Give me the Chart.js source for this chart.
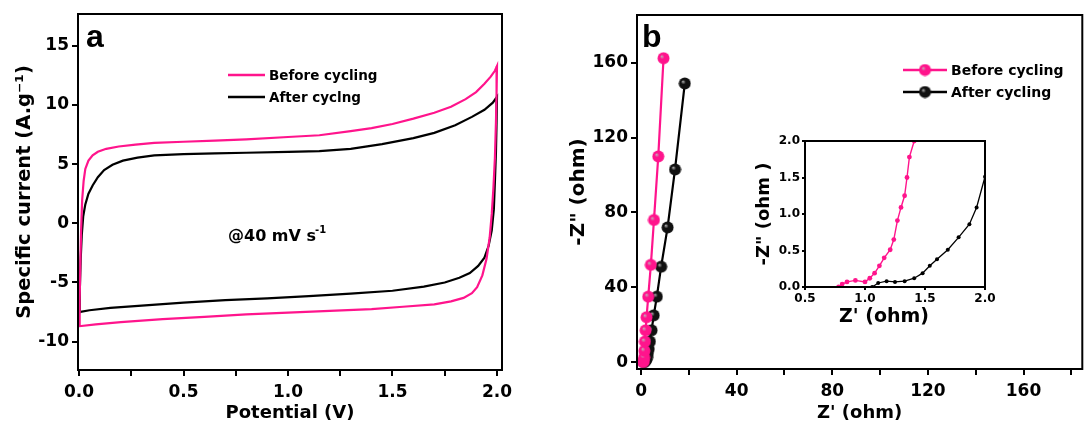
<!DOCTYPE html>
<html>
<head>
<meta charset="utf-8">
<script src="https://cdn.jsdelivr.net/npm/chart.js@4.4.1/dist/chart.umd.min.js"></script>
<style>
  html, body { margin: 0; padding: 0; background: #fff; }
  #wrap { position: relative; width: 1091px; height: 432px; overflow: hidden; }
  canvas { position: absolute; }
</style>
</head>
<body>
<div id="wrap">
  <canvas id="cvChart" style="left:0px;top:0px" width="560" height="432"></canvas>
  <canvas id="eisChart" style="left:560px;top:0px" width="531" height="432"></canvas>
  <canvas id="insetChart" style="left:740px;top:120px" width="260" height="220"></canvas>
</div>
<script>
// ---- data ----
// panel a: cyclic voltammetry loops (forward sweep, then reverse sweep)
const cvBeforeV = [0.000, 0.003, 0.006, 0.010, 0.015, 0.022, 0.030, 0.045, 0.065, 0.09, 0.13, 0.19, 0.27, 0.36, 0.50, 0.65, 0.80,
  1.00, 1.15, 1.30, 1.40, 1.50, 1.60, 1.70, 1.78, 1.85, 1.90, 1.94, 1.97, 1.99, 2.00,
  1.998, 1.995, 1.990, 1.983, 1.975, 1.965, 1.950, 1.930, 1.905, 1.88, 1.84, 1.78, 1.70, 1.55, 1.40, 1.20, 1.00, 0.80, 0.60, 0.40, 0.20, 0.08, 0.00];
const cvBeforeI = [-8.7, -6.5, -3.5, -0.5, 2.0, 3.6, 4.6, 5.3, 5.75, 6.05, 6.3, 6.5, 6.65, 6.8, 6.9, 7.0, 7.1,
  7.3, 7.45, 7.8, 8.05, 8.4, 8.85, 9.35, 9.85, 10.5, 11.1, 11.8, 12.4, 12.9, 13.3,
  11.0, 8.5, 5.5, 3.0, 0.8, -1.2, -3.0, -4.4, -5.4, -5.9, -6.3, -6.6, -6.85, -7.05, -7.25, -7.4, -7.55, -7.7, -7.9, -8.1, -8.35, -8.55, -8.7];
const cvAfterV = [0.000, 0.004, 0.008, 0.013, 0.020, 0.030, 0.045, 0.065, 0.09, 0.12, 0.16, 0.21, 0.28, 0.36, 0.50, 0.65, 0.80,
  1.00, 1.15, 1.30, 1.45, 1.60, 1.70, 1.80, 1.88, 1.94, 1.98, 2.00,
  1.998, 1.995, 1.990, 1.985, 1.975, 1.96, 1.94, 1.91, 1.87, 1.82, 1.75, 1.65, 1.50, 1.30, 1.10, 0.90, 0.70, 0.50, 0.30, 0.15, 0.05, 0.00];
const cvAfterI = [-7.5, -5.5, -3.0, -1.0, 0.6, 1.6, 2.5, 3.2, 3.9, 4.5, 4.95, 5.3, 5.55, 5.75, 5.85, 5.92, 5.97,
  6.05, 6.1, 6.3, 6.7, 7.2, 7.65, 8.3, 9.0, 9.6, 10.2, 10.7,
  8.5, 6.0, 3.5, 1.2, -0.6, -1.9, -2.9, -3.6, -4.2, -4.6, -5.0, -5.35, -5.7, -5.95, -6.15, -6.35, -6.5, -6.7, -6.95, -7.15, -7.35, -7.5];

// panel b: Nyquist plots
const eisBeforeRe = [0.8, 1.2, 1.3, 1.4, 1.6, 1.9, 2.3, 3.0, 4.1, 5.4, 7.2, 9.4];
const eisBeforeIm = [0.0, 0.6, 2.5, 6, 11, 17, 24, 35, 52, 76, 110, 162.5];
const eisAfterRe = [1.1, 1.5, 1.9, 2.2, 2.5, 2.8, 3.2, 3.7, 4.4, 5.3, 6.6, 8.4, 11.1, 14.2, 18.3];
const eisAfterIm = [0.0, 0.15, 0.8, 1.4, 2.5, 4.5, 7, 11, 17, 25, 35, 51, 72, 103, 149];

// inset: high-frequency region
const zoomBeforeRe = [0.78, 0.81, 0.85, 0.92, 1.00, 1.04, 1.08, 1.12, 1.16, 1.21, 1.24, 1.27, 1.30, 1.33, 1.35, 1.37, 1.41, 1.44];
const zoomBeforeIm = [0.00, 0.04, 0.07, 0.09, 0.07, 0.12, 0.19, 0.29, 0.40, 0.51, 0.65, 0.91, 1.09, 1.25, 1.50, 1.78, 2.00, 2.2];
const zoomAfterRe = [1.06, 1.11, 1.18, 1.25, 1.33, 1.41, 1.48, 1.54, 1.60, 1.69, 1.78, 1.87, 1.93, 2.00, 2.05];
const zoomAfterIm = [0.00, 0.055, 0.08, 0.07, 0.08, 0.12, 0.19, 0.29, 0.38, 0.51, 0.68, 0.86, 1.09, 1.51, 1.8];

// tick labels
const cvVoltTicks = [0, 0.5, 1, 1.5, 2];
const cvCurrentTicks = [-10, -5, 0, 5, 10, 15];
const eisTicks = [0, 40, 80, 120, 160];
const insetReTicks = [0.5, 1, 1.5, 2];
const insetImTicks = [0, 0.5, 1, 1.5, 2];

const seriesNames = ['Before cycling', 'After cyclng', 'After cycling'];

const PINK = '#ff148c';
const BLACK = '#000000';
const FONT = "'DejaVu Sans', Verdana, sans-serif";

Chart.defaults.font.family = FONT;
Chart.defaults.color = '#000';

function toXY(xs, ys) {
  return xs.map((x, i) => ({ x: x, y: ys[i] }));
}

// shaded ball used as marker in panel b
function makeBall(color, size) {
  const c = document.createElement('canvas');
  c.width = size; c.height = size;
  const g = c.getContext('2d');
  const r = size / 2;
  const grad = g.createRadialGradient(r * 0.7, r * 0.7, 0, r, r, r);
  grad.addColorStop(0, '#bbbbbb');
  grad.addColorStop(0.35, color);
  grad.addColorStop(1, color);
  g.fillStyle = grad;
  g.beginPath();
  g.arc(r, r, r - 0.5, 0, Math.PI * 2);
  g.fill();
  return c;
}

function tickGrid(len) {
  return { display: true, drawOnChartArea: false, drawTicks: true, tickLength: len, color: '#000', lineWidth: 2 };
}

// frame around plot area + free text
function framePlugin(id, texts) {
  return {
    id: id,
    afterDraw(chart) {
      const { ctx, chartArea: a } = chart;
      ctx.save();
      ctx.strokeStyle = '#000';
      ctx.lineWidth = 2;
      ctx.strokeRect(a.left, a.top, a.right - a.left, a.bottom - a.top);
      (texts || []).forEach(t => {
        ctx.font = t.font;
        ctx.fillStyle = '#000';
        ctx.textAlign = t.align || 'left';
        ctx.textBaseline = t.baseline || 'alphabetic';
        ctx.fillText(t.text, t.x, t.y);
      });
      ctx.restore();
    }
  };
}

function legendPlugin(id, rows, size) {
  return {
    id: id,
    afterDraw(chart) {
      const ctx = chart.ctx;
      ctx.save();
      rows.forEach(r => {
        ctx.strokeStyle = r.color;
        ctx.lineWidth = 2.5;
        ctx.beginPath();
        ctx.moveTo(r.x0, r.y);
        ctx.lineTo(r.x1, r.y);
        ctx.stroke();
        if (r.ball) ctx.drawImage(r.ball, (r.x0 + r.x1) / 2 - r.ball.width / 2, r.y - r.ball.height / 2);
        ctx.font = 'bold ' + size + 'px ' + FONT;
        ctx.fillStyle = '#000';
        ctx.textBaseline = 'middle';
        ctx.fillText(r.label, r.x1 + 4, r.y + 1);
      });
      ctx.restore();
    }
  };
}

// ---- panel a: CV ----
new Chart(document.getElementById('cvChart'), {
  type: 'scatter',
  data: {
    datasets: [
      { label: seriesNames[0], data: toXY(cvBeforeV, cvBeforeI), showLine: true, borderColor: PINK, borderWidth: 2.2, pointRadius: 0, tension: 0 },
      { label: seriesNames[1], data: toXY(cvAfterV, cvAfterI), showLine: true, borderColor: BLACK, borderWidth: 2.2, pointRadius: 0, tension: 0 }
    ]
  },
  options: {
    responsive: false,
    animation: false,
    devicePixelRatio: 1,
    layout: { padding: { top: 14, right: 58, left: 0, bottom: 0 } },
    plugins: { legend: { display: false }, tooltip: { enabled: false } },
    scales: {
      x: {
        type: 'linear', min: -0.005, max: 2.024,
        afterFit: s => { s.height = 62; },
        border: { display: false },
        grid: tickGrid(6),
        ticks: {
          stepSize: 0.25, includeBounds: false, padding: 6, maxRotation: 0, autoSkip: false,
          font: { size: 17, weight: 'bold' },
          callback: v => cvVoltTicks.includes(v) ? v.toFixed(1) : ''
        },
        title: { display: true, text: 'Potential (V)', font: { size: 18, weight: 'bold' }, padding: { top: 0, bottom: 8 } }
      },
      y: {
        type: 'linear', min: -12.4, max: 17.7,
        afterFit: s => { s.width = 78; },
        border: { display: false },
        grid: tickGrid(6),
        ticks: {
          stepSize: 5, includeBounds: false, padding: 3,
          font: { size: 17, weight: 'bold' },
          callback: v => cvCurrentTicks.includes(v) ? String(v) : ''
        },
        title: { display: true, text: 'Specific current (A.g⁻¹)', font: { size: 19.5, weight: 'bold' }, padding: { top: 13, bottom: 0 } }
      }
    }
  },
  plugins: [
    framePlugin('cvFrame', [
      { text: 'a', x: 86, y: 47, font: "bold 32px 'Liberation Sans', Arial, sans-serif" },
      { text: '@40 mV s', x: 228, y: 241, font: 'bold 16px ' + FONT },
      { text: '-1', x: 315, y: 233, font: 'bold 10px ' + FONT }
    ]),
    legendPlugin('cvLegend', [
      { x0: 228, x1: 265, y: 75, color: PINK, label: seriesNames[0] },
      { x0: 228, x1: 265, y: 97, color: BLACK, label: seriesNames[1] }
    ], 13.5)
  ]
});

// ---- panel b: Nyquist ----
const pinkBall = makeBall(PINK, 13);
const blackBall = makeBall('#111', 13);

new Chart(document.getElementById('eisChart'), {
  type: 'scatter',
  data: {
    datasets: [
      { label: seriesNames[0], data: toXY(eisBeforeRe, eisBeforeIm), showLine: true, borderColor: PINK, borderWidth: 2.2,
        pointStyle: pinkBall, pointRadius: 6.5 },
      { label: seriesNames[2], data: toXY(eisAfterRe, eisAfterIm), showLine: true, borderColor: BLACK, borderWidth: 2.2,
        pointStyle: blackBall, pointRadius: 6.5 }
    ]
  },
  options: {
    responsive: false,
    animation: false,
    devicePixelRatio: 1,
    layout: { padding: { top: 15, right: 8, left: 0, bottom: 0 } },
    plugins: { legend: { display: false }, tooltip: { enabled: false } },
    scales: {
      x: {
        type: 'linear', min: -1.7, max: 184.6,
        afterFit: s => { s.height = 63; },
        border: { display: false },
        grid: tickGrid(6),
        ticks: {
          stepSize: 20, includeBounds: false, padding: 6, maxRotation: 0, autoSkip: false,
          font: { size: 17, weight: 'bold' },
          callback: v => eisTicks.includes(v) ? String(v) : ''
        },
        title: { display: true, text: "Z' (ohm)", font: { size: 18, weight: 'bold' }, padding: { top: 0, bottom: 8 } }
      },
      y: {
        type: 'linear', min: -3.7, max: 185.6,
        afterFit: s => { s.width = 77; },
        border: { display: false },
        grid: tickGrid(6),
        ticks: {
          stepSize: 40, includeBounds: false, padding: 3,
          font: { size: 17, weight: 'bold' },
          callback: v => eisTicks.includes(v) ? String(v) : ''
        },
        title: { display: true, text: '-Z" (ohm)', font: { size: 20, weight: 'bold' }, padding: { top: 7, bottom: 0 } }
      }
    }
  },
  plugins: [
    framePlugin('eisFrame', [
      { text: 'b', x: 82, y: 47, font: "bold 32px 'Liberation Sans', Arial, sans-serif" }
    ]),
    legendPlugin('eisLegend', [
      { x0: 343, x1: 387, y: 70, color: PINK, label: seriesNames[0], ball: pinkBall },
      { x0: 343, x1: 387, y: 92, color: BLACK, label: seriesNames[2], ball: blackBall }
    ], 14)
  ]
});

// ---- inset ----
new Chart(document.getElementById('insetChart'), {
  type: 'scatter',
  data: {
    datasets: [
      { label: seriesNames[0], data: toXY(zoomBeforeRe, zoomBeforeIm), showLine: true, borderColor: PINK, backgroundColor: PINK,
        borderWidth: 1.4, pointRadius: 2.4, pointBorderWidth: 0 },
      { label: seriesNames[2], data: toXY(zoomAfterRe, zoomAfterIm), showLine: true, borderColor: BLACK, backgroundColor: BLACK,
        borderWidth: 1.3, pointRadius: 2, pointBorderWidth: 0 }
    ]
  },
  options: {
    responsive: false,
    animation: false,
    devicePixelRatio: 1,
    layout: { padding: { top: 21, right: 15, left: 0, bottom: 0 } },
    plugins: { legend: { display: false }, tooltip: { enabled: false } },
    scales: {
      x: {
        type: 'linear', min: 0.5, max: 2.0,
        afterFit: s => { s.height = 53; },
        border: { display: false },
        grid: tickGrid(3),
        ticks: {
          stepSize: 0.5, padding: 2, maxRotation: 0, autoSkip: false,
          font: { size: 12, weight: 'bold' },
          callback: v => insetReTicks.includes(v) ? v.toFixed(1) : ''
        }
      },
      y: {
        type: 'linear', min: 0, max: 2.0,
        afterFit: s => { s.width = 65; },
        border: { display: false },
        grid: tickGrid(3),
        ticks: {
          stepSize: 0.5, padding: 2,
          font: { size: 12, weight: 'bold' },
          callback: v => insetImTicks.includes(v) ? v.toFixed(1) : ''
        },
        title: { display: true, text: '-Z" (ohm )', font: { size: 18, weight: 'bold' }, padding: { top: 14, bottom: 0 } }
      }
    }
  },
  plugins: [
    framePlugin('insetFrame', [
      { text: "Z' (ohm)", x: 144, y: 202, align: 'center', font: 'bold 19px ' + FONT }
    ])
  ]
});
</script>
</body>
</html>
